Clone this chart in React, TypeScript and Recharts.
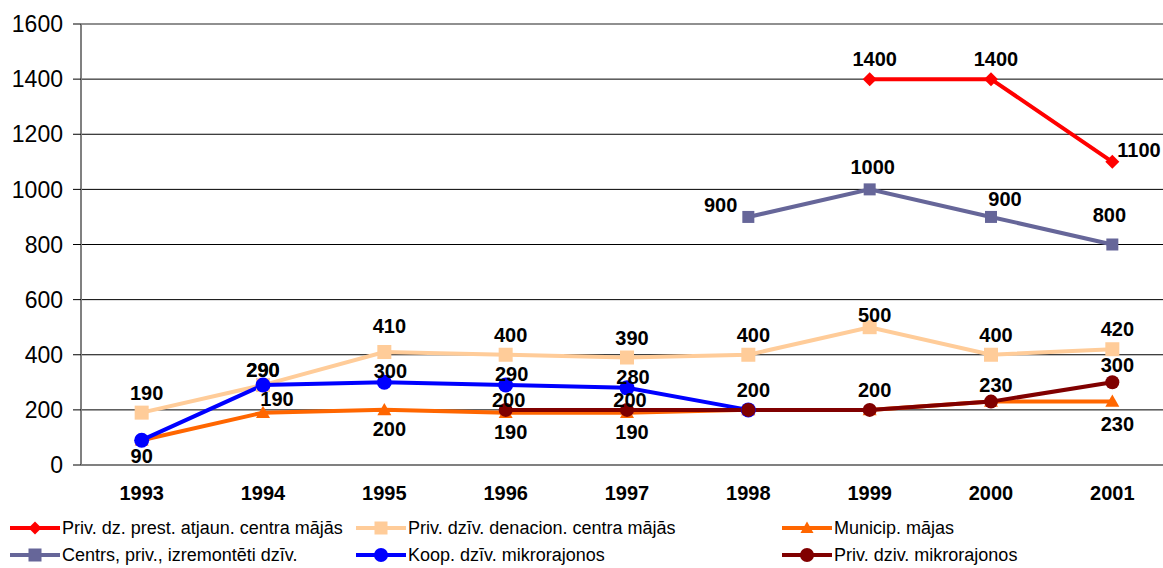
import React from "react";
import {
  LineChart,
  Line,
  XAxis,
  YAxis,
  CartesianGrid,
  ReferenceLine,
  LabelList,
} from "recharts";

const years = ["1993", "1994", "1995", "1996", "1997", "1998", "1999", "2000", "2001"];
const privPrest = [null, null, null, null, null, null, 1400, 1400, 1100];
const privDenac = [190, 290, 410, 400, 390, 400, 500, 400, 420];
const municip = [90, 190, 200, 190, 190, 200, 200, 230, 230];
const centrs = [null, null, null, null, null, 900, 1000, 900, 800];
const koop = [90, 290, 300, 290, 280, 200, null, null, null];
const privMikro = [null, null, null, 200, 200, 200, 200, 230, 300];
const yTicks = [0, 200, 400, 600, 800, 1000, 1200, 1400, 1600];

const data = years.map((y, i) => ({
  x: i + 0.5,
  year: y,
  privPrest: privPrest[i],
  privDenac: privDenac[i],
  municip: municip[i],
  centrs: centrs[i],
  koop: koop[i],
  privMikro: privMikro[i],
}));

type Shape = "diamond" | "square" | "triangle" | "circle";

const series: { key: string; name: string; color: string; shape: Shape; size: number }[] = [
  { key: "privPrest", name: "Priv. dz. prest. atjaun. centra mājās", color: "#FF0000", shape: "diamond", size: 7 },
  { key: "privDenac", name: "Priv. dzīv. denacion. centra mājās", color: "#FFCC99", shape: "square", size: 7 },
  { key: "municip", name: "Municip. mājas", color: "#FF6600", shape: "triangle", size: 7 },
  { key: "centrs", name: "Centrs, priv., izremontēti dzīv.", color: "#666699", shape: "square", size: 6 },
  { key: "koop", name: "Koop. dzīv. mikrorajonos", color: "#0000FF", shape: "circle", size: 7.5 },
  { key: "privMikro", name: "Priv. dziv. mikrorajonos", color: "#800000", shape: "circle", size: 7 },
];

// label placement: [dx, dy, anchor]; null hides the label
type Place = [number, number, "start" | "middle" | "end"] | null;
const defaultPlace: Record<string, Place> = {
  privPrest: [5, -20, "middle"],
  privDenac: [5, -20, "middle"],
  municip: [5, 19, "middle"],
  centrs: [3, -22, "middle"],
  koop: [6, -11, "middle"],
  privMikro: [5, -17, "middle"],
};
const placeOverride: Record<string, Record<number, Place>> = {
  privPrest: { 8: [5, -12, "start"] },
  privDenac: { 1: [0, -15, "middle"], 2: [5, -26, "middle"], 6: [5, -12, "middle"] },
  municip: { 0: [0, 16, "middle"], 1: [14, -14, "middle"], 5: null, 6: null, 7: null, 8: [5, 22, "middle"] },
  centrs: { 5: [-11, -12, "end"], 7: [14, -18, "middle"], 8: [-3, -30, "middle"] },
  koop: { 0: null, 1: [0, -15, "middle"], 5: null },
  privMikro: { 3: [3, -10, "middle"], 4: [3, -10, "middle"], 5: [5, -20, "middle"], 6: [5, -20, "middle"] },
};

function makeLabel(key: string) {
  return (props: any) => {
    const { x, y, value, index } = props;
    if (value == null || x == null || y == null) return null;
    const ov = placeOverride[key];
    const p = ov && index in ov ? ov[index] : defaultPlace[key];
    if (!p) return null;
    return (
      <text
        x={x + p[0]}
        y={y + p[1]}
        textAnchor={p[2]}
        dominantBaseline="central"
        fontSize={20}
        fontWeight="bold"
        fill="#000"
      >
        {value}
      </text>
    );
  };
}

function Marker({ shape, cx, cy, s, color }: { shape: Shape; cx: number; cy: number; s: number; color: string }) {
  if (shape === "diamond")
    return <polygon points={`${cx},${cy - s} ${cx + s},${cy} ${cx},${cy + s} ${cx - s},${cy}`} fill={color} />;
  if (shape === "square") return <rect x={cx - s} y={cy - s} width={2 * s} height={2 * s} fill={color} />;
  if (shape === "triangle")
    return <polygon points={`${cx},${cy - s} ${cx + s},${cy + s * 0.75} ${cx - s},${cy + s * 0.75}`} fill={color} />;
  return <circle cx={cx} cy={cy} r={s} fill={color} />;
}

function makeDot(sr: (typeof series)[number]) {
  return (props: any) => {
    const { cx, cy, index, value } = props;
    if (cx == null || cy == null || value == null) return <g key={`${sr.key}-${index}`} />;
    return (
      <g key={`${sr.key}-${index}`}>
        <Marker shape={sr.shape} cx={cx} cy={cy} s={sr.size} color={sr.color} />
      </g>
    );
  };
}

const legendCols = [10, 356, 782];
const legendRows = [528, 555];

function ChartLegend() {
  return (
    <>
      {series.map((sr, i) => (
        <div
          key={sr.key}
          style={{
            position: "absolute",
            left: legendCols[i % 3],
            top: legendRows[Math.floor(i / 3)] - 12,
            height: 24,
            display: "flex",
            alignItems: "center",
            fontSize: 18,
            whiteSpace: "nowrap",
          }}
        >
          <svg width={50} height={20} style={{ marginRight: 2 }}>
            <line x1={0} y1={10} x2={50} y2={10} stroke={sr.color} strokeWidth={4} />
            <Marker shape={sr.shape} cx={25} cy={10} s={sr.shape === "circle" ? 7 : 6.5} color={sr.color} />
          </svg>
          <span>{sr.name}</span>
        </div>
      ))}
    </>
  );
}

export default function App() {
  return (
    <div
      style={{
        position: "fixed",
        left: 0,
        top: 0,
        width: 1163,
        height: 568,
        overflow: "hidden",
        background: "#fff",
        fontFamily: "'Liberation Sans', Arial, sans-serif",
      }}
    >
      <LineChart width={1173} height={568} data={data} margin={{ top: 24, right: 0, left: 0, bottom: 62 }}>
        <CartesianGrid horizontal vertical={false} stroke="#000" xAxisId="grid" />
        <XAxis
          xAxisId="grid"
          dataKey="x"
          type="number"
          domain={[0, 9]}
          ticks={[0, 1, 2, 3, 4, 5, 6, 7, 8, 9]}
          interval={0}
          height={1}
          tick={false}
          tickSize={8}
          tickLine={{ stroke: "#000" }}
          axisLine={{ stroke: "#808080", strokeWidth: 2 }}
        />
        <XAxis
          xAxisId="yr"
          dataKey="x"
          type="number"
          domain={[0, 9]}
          ticks={[0.5, 1.5, 2.5, 3.5, 4.5, 5.5, 6.5, 7.5, 8.5]}
          interval={0}
          height={40}
          tickSize={0}
          tickMargin={20}
          tickLine={false}
          axisLine={false}
          tickFormatter={(v: number) => years[Math.floor(v)]}
          tick={{ fontSize: 20, fontWeight: "bold", fill: "#000" }}
        />
        <YAxis
          domain={[0, 1600]}
          ticks={yTicks}
          interval={0}
          width={81}
          tickSize={8}
          tickMargin={10}
          tickLine={{ stroke: "#000" }}
          axisLine={{ stroke: "#808080", strokeWidth: 2 }}
          tick={{ fontSize: 23, fill: "#000" }}
        />
        <ReferenceLine y={1600} xAxisId="grid" stroke="#909090" strokeWidth={2} />
        {series.map((sr) => (
          <Line
            key={sr.key}
            xAxisId="grid"
            dataKey={sr.key}
            name={sr.name}
            stroke={sr.color}
            strokeWidth={4}
            type="linear"
            dot={makeDot(sr)}
            activeDot={false}
            isAnimationActive={false}
          >
            <LabelList dataKey={sr.key} content={makeLabel(sr.key)} />
          </Line>
        ))}
      </LineChart>
      <ChartLegend />
    </div>
  );
}
